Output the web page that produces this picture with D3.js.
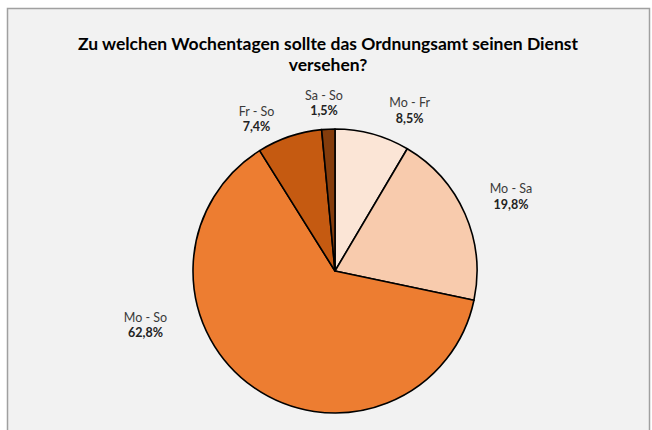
<!DOCTYPE html>
<html>
<head>
<meta charset="utf-8">
<script src="https://cdn.jsdelivr.net/npm/d3@7"></script>
<style>
  body { margin: 0; background: #fff; }
  text { font-family: Lato, "Open Sans", sans-serif; fill: #222; }
</style>
</head>
<body>
<script>
// data
var categories = ["Mo - Fr", "Mo - Sa", "Mo - So", "Fr - So", "Sa - So"];
var values = [8.5, 19.8, 62.8, 7.4, 1.5];
var colors = ["#fbe5d6", "#f8cbad", "#ed7d31", "#c55a11", "#843c0c"];
var titleLines = ["Zu welchen Wochentagen sollte das Ordnungsamt seinen Dienst", "versehen?"];

// label nudges away from the slice centroid (Excel "best fit" look)
var labelNudge = [[27.7, 12], [13, -2], [-87.6, -91.3], [-21.4, 17.3], [-2.6, 10.8]];

var W = 652, H = 430;
var cx = 335, cy = 271, r = 142;

var svg = d3.select("body").append("svg")
  .attr("width", W)
  .attr("height", H);

// chart area with frame
svg.append("rect")
  .attr("x", 7.5).attr("y", 8.5)
  .attr("width", 642).attr("height", 430)
  .attr("fill", "#f2f2f2")
  .attr("stroke", "#a0a0a0")
  .attr("stroke-width", 1.5);

svg.selectAll(".title")
  .data(titleLines)
  .enter().append("text")
  .attr("class", "title")
  .attr("x", 328)
  .attr("y", function(d, i) { return 50 + i * 21; })
  .attr("text-anchor", "middle")
  .style("font-size", "17.5px")
  .style("font-weight", "bold")
  .style("fill", "#000")
  .text(function(d) { return d; });

var pie = d3.pie().sort(null).value(function(d) { return d; });
var arcs = pie(values);

var arc = d3.arc().innerRadius(0).outerRadius(r);
var labelArc = d3.arc().innerRadius(178).outerRadius(178);

var g = svg.append("g").attr("transform", "translate(" + cx + "," + cy + ")");

g.selectAll("path")
  .data(arcs)
  .enter().append("path")
  .attr("d", arc)
  .attr("fill", function(d, i) { return colors[i]; })
  .attr("stroke", "#000")
  .attr("stroke-width", 1.6)
  .attr("stroke-linejoin", "round");

var lab = g.selectAll(".lab")
  .data(arcs)
  .enter().append("text")
  .attr("class", "lab")
  .attr("text-anchor", "middle")
  .attr("transform", function(d, i) {
    var c = labelArc.centroid(d);
    return "translate(" + (c[0] + labelNudge[i][0]) + "," + (c[1] + labelNudge[i][1]) + ")";
  })
  .style("font-size", "12.5px");

lab.append("tspan")
  .attr("x", 0).attr("y", -4)
  .style("fill", "#3a3a3a")
  .text(function(d, i) { return categories[i]; });

lab.append("tspan")
  .attr("x", 0).attr("y", 11.5)
  .style("font-weight", "bold")
  .text(function(d) { return d3.format(".1f")(d.value).replace(".", ",") + "%"; });
</script>
</body>
</html>
